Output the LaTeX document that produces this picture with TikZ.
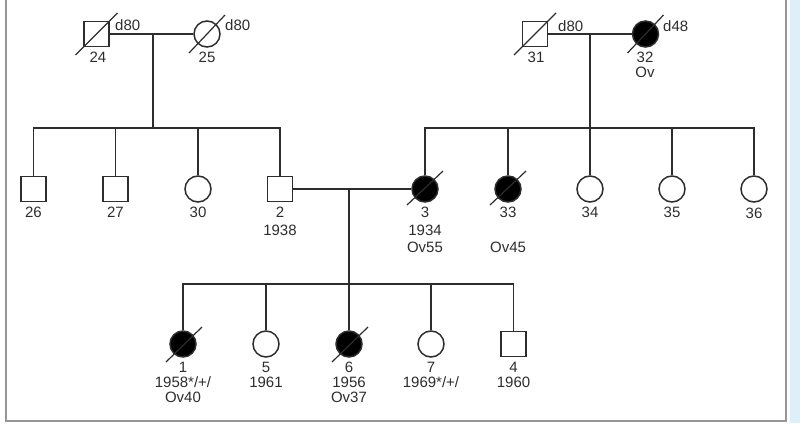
\documentclass[tikz,border=0pt]{standalone}
\usepackage{fontspec}
\setmainfont{Liberation Sans}
\usetikzlibrary{calc}
\definecolor{ink}{RGB}{45,45,45}
\definecolor{sidebar}{RGB}{222,239,250}
\definecolor{framegray}{RGB}{150,150,150}
\begin{document}
\begin{tikzpicture}[x=1pt,y=-1pt,
  male/.style={draw=ink, rectangle, minimum size=25pt, inner sep=0pt, line width=1.5pt},
  female/.style={draw=ink, circle, minimum size=26pt, inner sep=0pt, line width=1.5pt},
  affected/.style={fill=black},
  conn/.style={draw=ink, line width=1.5pt},
  slash/.style={draw=ink, line width=1.2pt},
  lbl/.style={font=\fontsize{15}{17}\selectfont, text=ink, anchor=base, inner sep=0pt},
  dlbl/.style={font=\fontsize{15}{17}\selectfont, text=ink, anchor=base west, inner sep=0pt}]
\useasboundingbox (0,0) rectangle (800,423);
\fill[sidebar, draw=none] (790,0) rectangle (800,423);
\draw[framegray, line width=1.5pt] (6,-2) -- (6,421) -- (786,421) -- (786,-2);

% Generation I
\node[male] (n24) at (96.5,34) {};
\node[female] (n25) at (207,34) {};
\node[male] (n31) at (535,34) {};
\node[female, affected] (n32) at (645.5,34) {};

% Generation II
\node[male] (n26) at (33.5,189) {};
\node[male] (n27) at (115.5,189) {};
\node[female] (n30) at (198,189) {};
\node[male] (n2) at (280,189) {};
\node[female, affected] (n3) at (425,189) {};
\node[female, affected] (n33) at (508,189) {};
\node[female] (n34) at (590,189) {};
\node[female] (n35) at (672,189) {};
\node[female] (n36) at (754,189) {};

% Generation III
\node[female, affected] (n1) at (183,344) {};
\node[female] (n5) at (266,344) {};
\node[female, affected] (n6) at (349,344) {};
\node[female] (n7) at (431,344) {};
\node[male] (n4) at (513.5,344) {};

% connectors generation I
\coordinate (m1) at (153,34);
\coordinate (s1) at (153,128);
\draw[conn] (n24.east) -- (n25.west);
\draw[conn] (m1) -- (s1);
\draw[conn] (n26.north) -- (n26 |- s1) -- (n2 |- s1) -- (n2.north);
\draw[conn] (n27.north) -- (n27 |- s1);
\draw[conn] (n30.north) -- (n30 |- s1);

\coordinate (m2) at (590,34);
\coordinate (s2) at (590,128);
\draw[conn] (n31.east) -- (n32.west);
\draw[conn] (m2) -- (s2);
\draw[conn] (n3.north) -- (n3 |- s2) -- (n36 |- s2) -- (n36.north);
\draw[conn] (n33.north) -- (n33 |- s2);
\draw[conn] (n34.north) -- (n34 |- s2);
\draw[conn] (n35.north) -- (n35 |- s2);

% connectors generation II
\coordinate (m3) at (349,189);
\coordinate (s3) at (349,284);
\draw[conn] (n2.east) -- (n3.west);
\draw[conn] (m3) -- (s3);
\draw[conn] (n1.north) -- (n1 |- s3) -- (n4 |- s3) -- (n4.north);
\draw[conn] (n5.north) -- (n5 |- s3);
\draw[conn] (n6.north) -- (n6 |- s3);
\draw[conn] (n7.north) -- (n7 |- s3);

% deceased slashes
\draw[slash] ($(n24)+(-21,21)$) -- ($(n24)+(21,-21)$);
\draw[slash] ($(n25)+(-18,19)$) -- ($(n25)+(18,-19)$);
\draw[slash] ($(n31)+(-21,21)$) -- ($(n31)+(21,-21)$);
\draw[slash] ($(n32)+(-18,19)$) -- ($(n32)+(18,-19)$);
\draw[slash] ($(n3)+(-18,16)$) -- ($(n3)+(18,-18)$);
\draw[slash] ($(n33)+(-18,16)$) -- ($(n33)+(18,-18)$);
\draw[slash] ($(n1)+(-17,18)$) -- ($(n1)+(19,-17)$);
\draw[slash] ($(n6)+(-17,18)$) -- ($(n6)+(19,-17)$);

% labels generation I
\node[dlbl] (d24) at (115,30) {d80};
\node[dlbl] (d25) at (225,30) {d80};
\node[dlbl] (d31) at (558,31) {d80};
\node[dlbl] (d32) at (663,31) {d48};
\node[lbl] (l24) at (98,62) {24};
\node[lbl] (l25) at (207,62) {25};
\node[lbl] (l31) at (536,62) {31};
\node[lbl] (l32) at (645,62.5) {32};
\node[lbl] (l32b) at (645,77) {Ov};

% labels generation II
\node[lbl] (l26) at (33.5,217) {26};
\node[lbl] (l27) at (115.5,217) {27};
\node[lbl] (l30) at (198,217) {30};
\node[lbl] (l2) at (280,217) {2};
\node[lbl] (l2b) at (280,235) {1938};
\node[lbl] (l3) at (425,217) {3};
\node[lbl] (l3b) at (425,235) {1934};
\node[lbl] (l3c) at (425,252.5) {Ov55};
\node[lbl] (l33) at (508,217) {33};
\node[lbl] (l33b) at (508,252.5) {Ov45};
\node[lbl] (l34) at (590,217) {34};
\node[lbl] (l35) at (672,217) {35};
\node[lbl] (l36) at (754,218) {36};

% labels generation III
\node[lbl] (l1) at (183,372) {1};
\node[lbl] (l1b) at (183,387) {1958*/+/};
\node[lbl] (l1c) at (183,402) {Ov40};
\node[lbl] (l5) at (266,372) {5};
\node[lbl] (l5b) at (266,387) {1961};
\node[lbl] (l6) at (349,372) {6};
\node[lbl] (l6b) at (349,387) {1956};
\node[lbl] (l6c) at (349,402) {Ov37};
\node[lbl] (l7) at (431,372) {7};
\node[lbl] (l7b) at (431,387) {1969*/+/};
\node[lbl] (l4) at (513.5,372) {4};
\node[lbl] (l4b) at (513.5,387) {1960};
\end{tikzpicture}
\end{document}
